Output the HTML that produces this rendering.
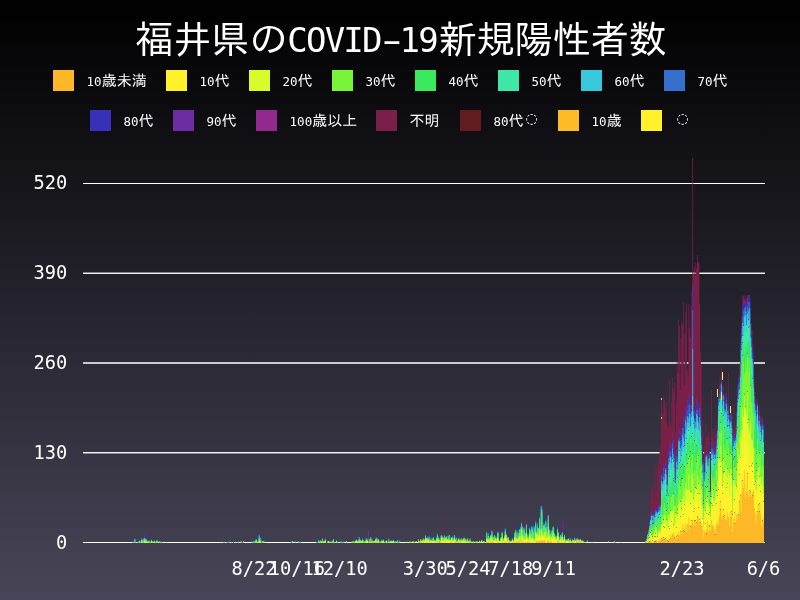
<!DOCTYPE html>
<html lang="ja"><head><meta charset="utf-8"><title>福井県のCOVID-19新規陽性者数</title>
<style>
html,body{margin:0;padding:0}
body{width:800px;height:600px;overflow:hidden;position:relative;background:linear-gradient(to bottom,#000 0%,#484558 100%);color:#fff;font-family:"DejaVu Sans Mono","Liberation Mono",monospace}
#title{position:absolute;left:1px;top:17px;width:800px;text-align:center;font-size:38px;line-height:48px;white-space:nowrap;font-family:"Liberation Mono","IPAGothic","Noto Sans CJK JP",monospace}
#title span{font-family:"DejaVu Sans Mono","Liberation Mono",monospace;font-size:34px;letter-spacing:-1.77px;margin-right:1.9px;position:relative;top:-1px}
#title i{font-style:normal;display:inline-block;transform:scaleX(1.7)}
.lg{position:absolute;font-size:15px;line-height:21px;white-space:nowrap;font-family:"Liberation Mono","IPAGothic","Noto Sans CJK JP",monospace}
.lg i{position:absolute;left:0;top:0;width:21px;height:21px;display:block}
.lg span{position:absolute;left:33.6px;top:1px}
.lg em{font-style:normal;position:relative;top:1px}
.lg b{font-weight:normal;font-family:"DejaVu Sans Mono","Liberation Mono",monospace;font-size:12.5px;letter-spacing:0}
.lg u{text-decoration:none;font-family:"DejaVu Sans","Liberation Sans",sans-serif;font-size:14px;display:inline-block;width:15px;text-align:center;position:relative;top:-3.5px;left:0.5px}
.yl{position:absolute;left:0;width:67.3px;text-align:right;font-size:18.67px;line-height:24px}
.xl{position:absolute;top:557px;width:100px;text-align:center;font-size:18.67px;line-height:24px;white-space:nowrap}
svg{position:absolute;left:0;top:0}
svg line{stroke:#fff;stroke-width:1}
</style></head><body>
<div id="title">福井県の<span>COVID<i>-</i>19</span>新規陽性者数</div>
<div class="lg" style="left:53px;top:70px"><i style="background:#fdb827"></i><span><b>10</b>歳未満</span></div>
<div class="lg" style="left:166px;top:70px"><i style="background:#fff22a"></i><span><b>10</b>代</span></div>
<div class="lg" style="left:249px;top:70px"><i style="background:#d8fb2a"></i><span><b>20</b>代</span></div>
<div class="lg" style="left:332px;top:70px"><i style="background:#78f53a"></i><span><b>30</b>代</span></div>
<div class="lg" style="left:415px;top:70px"><i style="background:#3ce95e"></i><span><b>40</b>代</span></div>
<div class="lg" style="left:498px;top:70px"><i style="background:#3ee8a8"></i><span><b>50</b>代</span></div>
<div class="lg" style="left:581px;top:70px"><i style="background:#38c8dc"></i><span><b>60</b>代</span></div>
<div class="lg" style="left:664px;top:70px"><i style="background:#3470cc"></i><span><b>70</b>代</span></div>
<div class="lg" style="left:90px;top:110px"><i style="background:#3830b8"></i><span><b>80</b>代</span></div>
<div class="lg" style="left:173px;top:110px"><i style="background:#6c2ca4"></i><span><b>90</b>代</span></div>
<div class="lg" style="left:256px;top:110px"><i style="background:#922a8e"></i><span><b>100</b>歳以上</span></div>
<div class="lg" style="left:376px;top:110px"><i style="background:#7a2048"></i><span><em>不明</em></span></div>
<div class="lg" style="left:460px;top:110px"><i style="background:#621c20"></i><span><b>80</b>代<u>◌</u></span></div>
<div class="lg" style="left:558px;top:110px"><i style="background:#fdbc26"></i><span><b>10</b>歳</span></div>
<div class="lg" style="left:641px;top:110px"><i style="background:#fff22a"></i><span><u>◌</u></span></div>

<svg width="800" height="600" viewBox="0 0 800 600">
<g><line x1="83" x2="765" y1="183.50" y2="183.50"/><line x1="83" x2="765" y1="273.25" y2="273.25"/><line x1="83" x2="765" y1="363.00" y2="363.00"/><line x1="83" x2="765" y1="452.75" y2="452.75"/><line x1="83" x2="765" y1="542.50" y2="542.50"/></g><g><line x1="83" x2="765" y1="183.50" y2="183.50"/><line x1="83" x2="765" y1="273.25" y2="273.25"/><line x1="83" x2="765" y1="363.00" y2="363.00"/><line x1="83" x2="765" y1="452.75" y2="452.75"/><line x1="83" x2="765" y1="542.50" y2="542.50"/></g>
<clipPath id="cp"><rect x="83" y="150" width="681" height="393"/></clipPath>
<g clip-path="url(#cp)">
<path fill="#7a2048" d="M443.13 543V520.67H443.91V543zM524.38 543V518.76H525.16V543zM645.46 543V538.36H646.25V535.6H647.03V528H647.81V527.31H648.59V519.72H649.37V513.5H650.15V504.53H650.93V486H651.71V490.03H652.5V487.96H653.28V500.39H654.06V472.08H654.84V492.1H655.62V463.11H656.4V490.72H657.18V467.94H657.96V465.18H658.75V456.89H659.53V451.37H660.31V445.16H661.09V397H661.87V412.71H662.65V412.71H663.43V398.21H664.21V400H665V408.57H665.78V402.35H666.56V423.06H667.34V424.44H668.12V427.21H668.9V381H669.68V420.99H670.46V424.44H671.24V402.35H672.03V377.5H672.81V388H673.59V392.69H674.37V383H675.15V432.04H675.93V400.97H676.71V360.93H677.49V374.05H678.28V320H679.06V325.72H679.84V390.62H680.62V338.15H681.4V321.58H682.18V325.03H682.96V302H683.74V385.09H684.53V334H685.31V311.91H686.09V304H686.87V369.21H687.65V375.43H688.43V304H689.21V328.48H689.99V337.46H690.78V306.39H691.56V291.2H692.34V158H693.12V273.84H693.9V266.47H694.68V275.16H695.46V263.08H696.24V268.49H697.02V255H697.81V262H698.59V263.16H699.37V304H700.15V352.64H700.93V365.07H701.71V432.73H702.49V420.3H703.27V472.08H704.06V441.01H704.84V450.68H705.62V424.44H706.4V437.56H707.18V436.18H707.96V432.04H708.74V437.56H709.52V472.08H710.31V458.27H711.09V390H711.87V438.25H712.65V429.28H713.43V427.9H714.21V441.01H714.99V425.13H715.77V433.42H716.56V432.73H717.34V412.71H718.12V395.45H718.9V384.4H719.68V376.81H720.46V543zM721.24 543V367.14H722.02V396.14H722.81V385.09H723.59V397.52H724.37V394.76H725.15V401.66H725.93V386.47H726.71V543zM728.27 543V373H729.05V414.09H729.84V414.09H730.62V409.26H731.4V412.02H732.18V474.15H732.96V429.97H733.74V404H734.52V425.13H735.3V427.21H736.09V423.06H736.87V385.78H737.65V386.47H738.43V374.74H739.21V363.69H739.99V362.31H740.77V333.31H741.55V314.67H742.34V295H743.12V296.03H743.9V298.79H744.68V295H745.46V300.17H746.24V297.41H747.02V295H747.8V543zM748.59 543V298.79H749.37V543zM750.15 543V313.29H750.93V322.96H751.71V329.86H752.49V343.67H753.27V360.24H754.05V380.26H754.83V392H755.62V446.54H756.4V400.28H757.18V398.9H757.96V412.02H758.74V404.42H759.52V418.92H760.3V415.47H761.08V418.23H761.87V415.47H762.65V419.61H763.43V436.18H764.21V543z"/>
<path fill="#922a8e" d="M368.13 543V530.81H368.92V543z"/>
<path fill="#6c2ca4" d="M140.02 543V541.12H140.8V543zM143.93 543V536.29H144.71V533.6H145.49V543zM146.27 543V537.67H147.05V543zM152.52 543V540.43H153.3V543zM223.61 543V541.12H224.39V543zM237.67 543V541.81H238.45V543zM260.33 543V536.98H261.11V543zM326.73 543V541.12H327.51V543zM329.07 543V540.43H329.85V543zM336.1 543V539.74H336.89V543zM354.85 543V540.43H355.63V539.05H356.42V543zM361.88 543V536.98H362.67V543zM369.7 543V541.12H370.48V543zM372.82 543V540.43H373.6V543zM375.95 543V536.98H376.73V543zM378.29 543V538.36H379.07V543zM386.1 543V539.05H386.88V543zM434.54 543V539.74H435.32V543zM440.79 543V533.52H441.57V543zM449.38 543V534.22H450.16V543zM451.72 543V536.29H452.5V543zM456.41 543V536.98H457.19V543zM475.16 543V541.12H475.94V543zM490 543V534.91H490.78V543zM497.82 543V530.76H498.6V543zM505.63 543V532.83H506.41V543zM516.56 543V530.07H517.35V543zM525.94 543V523.17H526.72V543zM527.5 543V532.14H528.28V543zM529.85 543V528.69H530.63V543zM538.44 543V527.31H539.22V514.88H540V543zM540.78 543V504.5H541.56V505.22H542.34V543zM548.59 543V528H549.38V527.31H550.16V543zM561.87 543V531.45H562.66V519.29H563.44V543zM572.81 543V539.05H573.59V543zM582.19 543V539.74H582.97V543zM646.25 543V537.67H647.03V543zM648.59 543V525.93H649.37V521.1H650.15V516.27H650.93V512.12H651.71V510.74H652.5V543zM653.28 543V511.43H654.06V514.88H654.84V508.67H655.62V506.6H656.4V543zM657.18 543V507.98H657.96V505.22H658.75V506.6H659.53V505.22H660.31V503.15H661.09V472.77H661.87V475.53H662.65V472.77H663.43V464.49H664.21V465.87H665V463.11H665.78V459.65H666.56V488.65H667.34V475.53H668.12V451.37H668.9V449.99H669.68V441.01H670.46V443.77H671.24V448.61H672.03V434.11H672.81V440.32H673.59V445.85H674.37V470.01H675.15V474.15H675.93V449.99H676.71V452.75H677.49V449.3H678.28V436.18H679.06V429.28H679.84V431.35H680.62V436.18H681.4V432.73H682.18V423.06H682.96V416.85H683.74V423.75H684.53V422.37H685.31V405.8H686.09V408.57H686.87V399.59H687.65V406.49H688.43V394.76H689.21V394.76H689.99V405.8H690.78V405.11H691.56V394.07H692.34V283.69H693.12V401.66H693.9V409.26H694.68V412.02H695.46V410.64H696.24V398.9H697.02V402.35H697.81V407.88H698.59V416.16H699.37V403.04H700.15V414.78H700.93V429.28H701.71V465.87H702.49V459.65H703.27V543zM704.06 543V467.94H704.84V464.49H705.62V453.44H706.4V543zM707.18 543V459.65H707.96V456.89H708.74V451.37H709.52V487.96H710.31V488.65H711.09V442.39H711.87V443.77H712.65V443.77H713.43V453.44H714.21V451.37H714.99V449.99H715.77V449.3H716.56V434.11H717.34V420.99H718.12V543zM718.9 543V394.07H719.68V384.4H720.46V384.4H721.24V374.74H722.02V396.83H722.81V387.16H723.59V402.35H724.37V396.83H725.15V403.04H725.93V393.38H726.71V413.4H727.49V403.04H728.27V410.64H729.05V416.16H729.84V416.16H730.62V409.95H731.4V421.68H732.18V477.6H732.96V438.25H733.74V433.42H734.52V433.42H735.3V543zM736.09 543V427.21H736.87V400.97H737.65V389.23H738.43V377.5H739.21V377.5H739.99V366.45H740.77V340.91H741.55V322.96H742.34V307.77H743.12V302.25H743.9V300.87H744.68V543zM745.46 543V301.56H746.24V305.7H747.02V298.79H747.8V295H748.59V301.56H749.37V295H750.15V316.05H750.93V331.24H751.71V345.74H752.49V348.5H753.27V375.43H754.05V392H754.83V399.59H755.62V449.3H756.4V405.11H757.18V543zM757.96 543V416.85H758.74V410.64H759.52V425.83H760.3V419.61H761.08V427.9H761.87V421.68H762.65V423.75H763.43V543z"/>
<path fill="#3830b8" d="M134.55 543V537.67H135.33V543zM137.68 543V541.81H138.46V543zM139.24 543V539.74H140.02V543zM144.71 543V535.6H145.49V543zM146.27 543V538.36H147.05V540.43H147.83V539.74H148.61V543zM156.42 543V539.74H157.21V543zM226.73 543V541.81H227.52V543zM228.3 543V541.12H229.08V543zM232.98 543V541.81H233.76V543zM242.36 543V541.81H243.14V543zM253.3 543V539.74H254.08V540.43H254.86V543zM258.76 543V532.83H259.55V533.74H260.33V537.67H261.11V541.81H261.89V543zM262.67 543V540.43H263.45V543zM316.57 543V541.81H317.35V543zM322.82 543V540.43H323.6V540.43H324.39V543zM325.95 543V541.81H326.73V541.81H327.51V539.74H328.29V543zM331.42 543V541.12H332.2V543zM340.01 543V541.12H340.79V543zM341.57 543V541.12H342.35V543zM358.76 543V536.29H359.54V543zM361.1 543V539.74H361.88V543zM364.23 543V540.43H365.01V543zM380.63 543V539.05H381.41V543zM384.54 543V541.12H385.32V543zM386.1 543V539.74H386.88V543zM387.66 543V541.81H388.45V543zM391.57 543V539.05H392.35V543zM393.13 543V539.05H393.91V543zM395.48 543V540.43H396.26V543zM397.04 543V539.05H397.82V543zM398.6 543V541.81H399.38V543zM418.91 543V540.43H419.69V543zM425.94 543V536.98H426.72V543zM429.07 543V534.91H429.85V543zM431.41 543V539.05H432.19V543zM435.32 543V539.05H436.1V543zM440.79 543V534.22H441.57V543zM450.16 543V539.05H450.94V543zM451.72 543V536.98H452.5V543zM456.41 543V537.67H457.19V543zM460.32 543V539.05H461.1V543zM467.35 543V537.67H468.13V543zM492.35 543V536.29H493.13V543zM500.94 543V536.29H501.72V543zM504.85 543V527.83H505.63V543zM507.19 543V536.98H507.97V536.29H508.75V543zM511.88 543V536.98H512.66V543zM515.78 543V538.36H516.56V543zM520.47 543V525.93H521.25V543zM524.38 543V530.76H525.16V543zM530.63 543V532.14H531.41V523.86H532.19V525.93H532.97V543zM533.75 543V525.24H534.53V543zM535.31 543V520.41H536.09V543zM539.22 543V515.58H540V543zM540.78 543V505.19H541.56V505.91H542.34V526.62H543.13V521.79H543.91V543zM545.47 543V519.03H546.25V543zM547.03 543V530.07H547.81V514.19H548.59V528.69H549.38V528H550.16V532.83H550.94V543zM552.5 543V525.93H553.28V543zM557.19 543V525.93H557.97V543zM561.09 543V535.6H561.87V543zM562.66 543V529.29H563.44V543zM564.22 543V533.52H565V543zM565.78 543V536.98H566.56V539.05H567.34V543zM568.12 543V537.67H568.91V543zM575.16 543V537.67H575.94V543zM576.72 543V536.98H577.5V543zM578.28 543V538.36H579.06V543zM581.41 543V539.05H582.19V543zM647.81 543V532.14H648.59V528.69H649.37V543zM650.15 543V517.65H650.93V513.5H651.71V512.81H652.5V522.48H653.28V513.5H654.06V515.58H654.84V510.74H655.62V507.29H656.4V508.67H657.18V509.36H657.96V508.67H658.75V543zM661.09 543V473.46H661.87V479.68H662.65V476.91H663.43V466.56H664.21V467.94H665V465.87H665.78V463.8H666.56V490.03H667.34V480.37H668.12V455.51H668.9V452.75H669.68V443.08H670.46V447.23H671.24V452.75H672.03V438.25H672.81V445.85H673.59V449.3H674.37V472.77H675.15V474.84H675.93V453.44H676.71V457.58H677.49V453.44H678.28V438.94H679.06V434.11H679.84V435.49H680.62V438.94H681.4V436.87H682.18V424.44H682.96V420.3H683.74V427.9H684.53V427.9H685.31V412.02H686.09V412.71H686.87V408.57H687.65V412.02H688.43V396.83H689.21V399.59H689.99V407.18H690.78V407.88H691.56V397.52H692.34V288.52H693.12V407.18H693.9V412.71H694.68V415.47H695.46V414.78H696.24V402.35H697.02V405.8H697.81V412.71H698.59V420.3H699.37V404.42H700.15V416.16H700.93V430.66H701.71V467.25H702.49V460.34H703.27V499.01H704.06V468.63H704.84V467.94H705.62V454.82H706.4V452.06H707.18V461.03H707.96V457.58H708.74V452.75H709.52V490.72H710.31V489.34H711.09V445.85H711.87V444.47H712.65V444.47H713.43V456.2H714.21V452.75H714.99V451.37H715.77V449.99H716.56V434.8H717.34V421.68H718.12V398.21H718.9V396.83H719.68V389.23H720.46V387.85H721.24V380.26H722.02V400.28H722.81V389.23H723.59V405.11H724.37V398.9H725.15V405.11H725.93V394.76H726.71V414.78H727.49V403.73H728.27V411.33H729.05V418.23H729.84V418.23H730.62V412.02H731.4V423.06H732.18V478.98H732.96V438.94H733.74V435.49H734.52V435.49H735.3V435.49H736.09V427.9H736.87V401.66H737.65V390.62H738.43V378.88H739.21V380.26H739.99V367.83H740.77V342.98H741.55V325.72H742.34V311.22H743.12V302.94H743.9V304.32H744.68V303.63H745.46V302.94H746.24V308.46H747.02V302.94H747.8V297.06H748.59V302.94H749.37V297.07H750.15V318.12H750.93V334H751.71V346.43H752.49V349.88H753.27V376.81H754.05V392.69H754.83V402.35H755.62V450.68H756.4V407.18H757.18V400.97H757.96V417.54H758.74V412.02H759.52V427.21H760.3V420.3H761.08V429.28H761.87V422.37H762.65V424.44H763.43V438.94H764.21V543z"/>
<path fill="#3470cc" d="M134.55 543V538.36H135.33V543zM138.46 543V541.12H139.24V543zM140.02 543V541.81H140.8V543zM143.93 543V536.98H144.71V543zM145.49 543V539.74H146.27V543zM155.64 543V540.43H156.42V543zM159.55 543V541.12H160.33V543zM231.42 543V541.81H232.2V543zM240.8 543V540.43H241.58V543zM258.76 543V534.22H259.55V537.43H260.33V543zM263.45 543V540.43H264.23V543zM290.79 543V541.81H291.57V543zM294.7 543V541.12H295.48V543zM298.61 543V541.81H299.39V543zM317.35 543V541.81H318.14V539.74H318.92V543zM325.17 543V538.36H325.95V543zM327.51 543V540.43H328.29V543zM329.07 543V541.12H329.85V543zM330.64 543V541.12H331.42V543zM334.54 543V541.81H335.32V543zM361.1 543V540.43H361.88V538.36H362.67V539.05H363.45V543zM368.92 543V538.36H369.7V543zM374.38 543V540.43H375.16V537.67H375.95V543zM379.07 543V541.12H379.85V543zM380.63 543V540.43H381.41V543zM382.98 543V539.05H383.76V543zM385.32 543V540.43H386.1V543zM388.45 543V538.36H389.23V543zM390.01 543V540.43H390.79V543zM391.57 543V539.74H392.35V543zM397.04 543V539.74H397.82V543zM425.16 543V534.91H425.94V543zM427.51 543V536.29H428.29V539.05H429.07V535.6H429.85V539.74H430.63V537.67H431.41V539.74H432.19V543zM438.44 543V537.67H439.22V538.36H440.01V543zM440.79 543V534.91H441.57V543zM443.91 543V534.91H444.69V543zM445.47 543V536.29H446.26V543zM451.72 543V537.67H452.5V535.6H453.29V543zM455.63 543V536.98H456.41V543zM461.88 543V539.05H462.66V543zM464.22 543V536.98H465V538.36H465.79V543zM472.82 543V540.43H473.6V543zM487.66 543V532.83H488.44V535.6H489.22V543zM490.78 543V534.22H491.57V543zM492.35 543V536.98H493.13V543zM497.03 543V532.14H497.82V531.45H498.6V543zM500.94 543V536.98H501.72V531.45H502.5V543zM504.07 543V535.6H504.85V543zM512.66 543V539.05H513.44V543zM515 543V529.38H515.78V543zM516.56 543V530.76H517.35V543zM518.13 543V532.83H518.91V528.69H519.69V543zM520.47 543V526.62H521.25V522.48H522.03V525.93H522.81V543zM523.6 543V526.62H524.38V531.45H525.16V543zM525.94 543V523.86H526.72V536.29H527.5V532.83H528.28V543zM529.06 543V527.31H529.85V529.38H530.63V532.83H531.41V525.93H532.19V526.62H532.97V531.45H533.75V525.93H534.53V543zM535.31 543V521.1H536.09V531.45H536.88V522.48H537.66V543zM539.22 543V516.96H540V528.69H540.78V543zM541.56 543V507.29H542.34V527.31H543.13V522.48H543.91V523.17H544.69V543zM545.47 543V519.72H546.25V543zM547.03 543V530.76H547.81V543zM548.59 543V530.07H549.38V528.69H550.16V543zM550.94 543V531.45H551.72V529.38H552.5V526.62H553.28V543zM554.84 543V534.22H555.63V535.6H556.41V535.6H557.19V527.31H557.97V531.45H558.75V543zM559.53 543V536.29H560.31V534.22H561.09V543zM565 543V539.05H565.78V537.67H566.56V543zM575.16 543V539.05H575.94V543zM576.72 543V537.67H577.5V543zM581.41 543V539.74H582.19V543zM582.97 543V540.43H583.75V543zM645.46 543V539.74H646.25V538.36H647.03V543zM649.37 543V522.48H650.15V543zM650.93 543V514.19H651.71V514.19H652.5V523.17H653.28V514.19H654.06V516.96H654.84V513.5H655.62V510.05H656.4V512.12H657.18V512.12H657.96V510.05H658.75V507.29H659.53V506.6H660.31V504.53H661.09V474.84H661.87V482.44H662.65V481.06H663.43V467.94H664.21V473.46H665V467.94H665.78V467.94H666.56V492.1H667.34V481.75H668.12V458.27H668.9V457.58H669.68V450.68H670.46V452.06H671.24V456.2H672.03V442.39H672.81V453.44H673.59V452.75H674.37V478.29H675.15V479.68H675.93V456.2H676.71V460.34H677.49V456.2H678.28V439.63H679.06V438.25H679.84V440.32H680.62V447.92H681.4V439.63H682.18V427.9H682.96V427.9H683.74V432.73H684.53V434.11H685.31V416.16H686.09V421.68H686.87V410.64H687.65V416.85H688.43V405.11H689.21V403.73H689.99V414.09H690.78V410.64H691.56V405.8H692.34V309.97H693.12V410.64H693.9V418.23H694.68V418.23H695.46V421.68H696.24V409.95H697.02V409.95H697.81V418.23H698.59V422.37H699.37V407.88H700.15V419.61H700.93V437.56H701.71V467.94H702.49V461.73H703.27V500.39H704.06V472.08H704.84V472.08H705.62V455.51H706.4V453.44H707.18V462.42H707.96V461.73H708.74V454.82H709.52V491.41H710.31V491.41H711.09V448.61H711.87V449.99H712.65V448.61H713.43V457.58H714.21V453.44H714.99V453.44H715.77V452.06H716.56V441.01H717.34V428.59H718.12V398.9H718.9V398.9H719.68V394.07H720.46V390.62H721.24V382.33H722.02V404.42H722.81V394.07H723.59V412.02H724.37V403.04H725.15V409.26H725.93V398.21H726.71V421.68H727.49V407.18H728.27V414.78H729.05V420.3H729.84V420.3H730.62V414.78H731.4V425.82H732.18V479.68H732.96V443.08H733.74V436.87H734.52V440.32H735.3V437.56H736.09V430.66H736.87V406.49H737.65V394.07H738.43V383.71H739.21V381.64H739.99V371.28H740.77V344.36H741.55V328.48H742.34V316.74H743.12V311.22H743.9V308.46H744.68V307.08H745.46V307.08H746.24V314.67H747.02V307.08H747.8V301.88H748.59V309.15H749.37V301.89H750.15V324.34H750.93V337.46H751.71V352.64H752.49V358.17H753.27V383.71H754.05V395.45H754.83V405.11H755.62V453.44H756.4V409.95H757.18V403.73H757.96V419.61H758.74V415.47H759.52V429.97H760.3V424.44H761.08V433.42H761.87V424.44H762.65V425.82H763.43V441.01H764.21V543z"/>
<path fill="#38c8dc" d="M134.55 543V539.05H135.33V543zM140.8 543V539.74H141.58V538.36H142.36V543zM143.14 543V539.05H143.93V538.36H144.71V538.36H145.49V543zM146.27 543V539.05H147.05V543zM148.61 543V541.12H149.39V543zM151.74 543V541.12H152.52V543zM154.08 543V540.43H154.86V543zM157.21 543V540.43H157.99V543zM158.77 543V541.12H159.55V543zM235.33 543V541.81H236.11V543zM253.3 543V541.12H254.08V543zM255.64 543V539.05H256.42V539.74H257.2V543zM257.98 543V541.12H258.76V543zM259.55 543V540.43H260.33V538.36H261.11V543zM300.17 543V541.81H300.95V543zM322.04 543V538.36H322.82V543zM323.6 543V541.12H324.39V543zM325.17 543V539.05H325.95V543zM329.07 543V541.81H329.85V543zM340.01 543V541.81H340.79V541.12H341.57V543zM357.98 543V539.74H358.76V543zM362.67 543V539.74H363.45V543zM365.01 543V540.43H365.79V543zM366.57 543V539.05H367.35V539.74H368.13V543zM371.26 543V540.43H372.04V539.74H372.82V543zM374.38 543V541.12H375.16V539.05H375.95V537.67H376.73V538.36H377.51V540.43H378.29V543zM382.2 543V540.43H382.98V543zM388.45 543V539.05H389.23V543zM390.79 543V540.43H391.57V543zM392.35 543V541.12H393.13V539.74H393.91V543zM418.13 543V539.05H418.91V543zM419.69 543V541.12H420.48V543zM422.04 543V539.74H422.82V538.36H423.6V543zM424.38 543V539.05H425.16V535.6H425.94V543zM427.51 543V536.98H428.29V543zM429.07 543V536.98H429.85V543zM430.63 543V538.36H431.41V543zM432.19 543V538.36H432.97V536.98H433.76V543zM435.32 543V539.74H436.1V537.67H436.88V533.52H437.66V536.29H438.44V538.36H439.22V539.74H440.01V543zM441.57 543V535.6H442.35V537.67H443.13V537.67H443.91V535.6H444.69V537.67H445.47V536.98H446.26V536.29H447.04V543zM447.82 543V535.6H448.6V543zM452.5 543V536.98H453.29V539.74H454.07V543zM455.63 543V537.67H456.41V543zM458.75 543V539.74H459.54V543zM461.1 543V538.36H461.88V543zM462.66 543V539.05H463.44V537.67H464.22V538.36H465V543zM467.35 543V538.36H468.13V543zM468.91 543V540.43H469.69V543zM482.97 543V541.12H483.75V540.43H484.53V543zM486.1 543V532.14H486.88V537.67H487.66V533.52H488.44V543zM489.22 543V537.67H490V543zM490.78 543V534.91H491.57V530.76H492.35V537.67H493.13V536.98H493.91V543zM496.25 543V538.36H497.03V532.83H497.82V543zM501.72 543V532.14H502.5V539.05H503.28V538.36H504.07V543zM504.85 543V528.52H505.63V543zM506.41 543V534.91H507.19V537.67H507.97V536.98H508.75V543zM511.1 543V541.12H511.88V538.36H512.66V543zM513.44 543V540.43H514.22V543zM515 543V530.07H515.78V539.05H516.56V531.45H517.35V539.05H518.13V533.52H518.91V529.38H519.69V543zM520.47 543V527.31H521.25V523.17H522.03V527.31H522.81V534.91H523.6V543zM525.16 543V533.52H525.94V524.55H526.72V543zM528.28 543V536.29H529.06V528H529.85V530.07H530.63V533.52H531.41V526.62H532.19V528.69H532.97V532.14H533.75V526.62H534.53V538.36H535.31V522.48H536.09V543zM536.88 543V523.86H537.66V528H538.44V528H539.22V518.34H540V529.38H540.78V505.88H541.56V509.36H542.34V528H543.13V525.24H543.91V524.55H544.69V527.31H545.47V521.1H546.25V527.31H547.03V532.14H547.81V514.88H548.59V531.45H549.38V529.38H550.16V543zM550.94 543V532.83H551.72V530.07H552.5V543zM553.28 543V526.62H554.06V543zM554.84 543V535.6H555.63V543zM556.41 543V536.29H557.19V528.69H557.97V543zM558.75 543V539.05H559.53V543zM564.22 543V534.91H565V539.74H565.78V543zM570.47 543V539.74H571.25V543zM572.03 543V539.05H572.81V543zM581.41 543V540.43H582.19V543zM583.75 543V541.81H584.53V543zM585.31 543V541.81H586.09V543zM614.22 543V541.12H615V541.81H615.78V543zM646.25 543V539.05H647.03V534.22H647.81V534.22H648.59V529.38H649.37V525.93H650.15V519.72H650.93V515.58H651.71V515.58H652.5V524.55H653.28V515.58H654.06V518.34H654.84V514.88H655.62V511.43H656.4V513.5H657.18V513.5H657.96V512.12H658.75V510.74H659.53V511.43H660.31V506.6H661.09V481.06H661.87V484.51H662.65V483.13H663.43V476.91H664.21V479.68H665V470.01H665.78V474.15H666.56V495.55H667.34V485.2H668.12V464.49H668.9V461.73H669.68V455.51H670.46V457.58H671.24V463.11H672.03V448.61H672.81V461.73H673.59V458.27H674.37V481.75H675.15V482.44H675.93V461.03H676.71V469.32H677.49V464.49H678.28V441.01H679.06V441.7H679.84V447.92H680.62V455.51H681.4V445.85H682.18V434.8H682.96V438.25H683.74V441.7H684.53V445.85H685.31V420.3H686.09V429.28H686.87V416.16H687.65V423.06H688.43V418.23H689.21V412.71H689.99V426.52H690.78V416.85H691.56V412.71H692.34V348.95H693.12V416.16H693.9V428.59H694.68V421.68H695.46V427.9H696.24V414.09H697.02V415.47H697.81V421.68H698.59V430.66H699.37V416.85H700.15V425.82H700.93V445.16H701.71V472.08H702.49V464.49H703.27V503.15H704.06V481.06H704.84V474.84H705.62V457.58H706.4V456.2H707.18V465.87H707.96V466.56H708.74V457.58H709.52V494.86H710.31V492.1H711.09V454.13H711.87V454.82H712.65V453.44H713.43V460.34H714.21V454.82H714.99V458.96H715.77V454.82H716.56V445.16H717.34V430.66H718.12V405.8H718.9V401.66H719.68V398.21H720.46V399.59H721.24V384.4H722.02V411.33H722.81V395.45H723.59V415.47H724.37V409.26H725.15V412.02H725.93V404.42H726.71V426.52H727.49V410.64H728.27V418.23H729.05V427.9H729.84V423.06H730.62V421.68H731.4V428.59H732.18V480.37H732.96V445.85H733.74V440.32H734.52V443.77H735.3V440.32H736.09V434.8H736.87V412.71H737.65V398.21H738.43V390.62H739.21V388.54H739.99V376.81H740.77V349.88H741.55V337.46H742.34V322.96H743.12V325.72H743.9V316.74H744.68V314.67H745.46V311.22H746.24V325.03H747.02V313.98H747.8V311.5H748.59V319.51H749.37V308.1H750.15V337.46H750.93V347.12H751.71V358.17H752.49V362.31H753.27V387.85H754.05V403.73H754.83V409.95H755.62V456.2H756.4V415.47H757.18V405.8H757.96V426.52H758.74V420.99H759.52V432.73H760.3V426.52H761.08V439.63H761.87V428.59H762.65V429.97H763.43V442.39H764.21V543z"/>
<path fill="#3ee8a8" d="M132.21 543V541.81H132.99V541.81H133.77V543zM138.46 543V541.81H139.24V543zM140.8 543V541.12H141.58V543zM143.14 543V540.43H143.93V539.05H144.71V539.05H145.49V540.43H146.27V543zM147.05 543V541.12H147.83V543zM148.61 543V541.81H149.39V540.43H150.18V543zM150.96 543V539.74H151.74V543zM152.52 543V541.12H153.3V543zM158.77 543V541.81H159.55V543zM160.33 543V541.81H161.11V541.81H161.89V543zM165.8 543V541.81H166.58V543zM240.8 543V541.12H241.58V543zM251.73 543V541.81H252.51V543zM254.86 543V541.12H255.64V539.74H256.42V543zM257.2 543V541.81H257.98V541.81H258.76V535.6H259.55V543zM261.89 543V541.12H262.67V541.12H263.45V543zM292.36 543V541.12H293.14V543zM297.82 543V541.12H298.61V543zM318.14 543V540.43H318.92V543zM319.7 543V540.43H320.48V540.43H321.26V541.12H322.04V539.05H322.82V543zM324.39 543V540.43H325.17V543zM332.2 543V540.43H332.98V539.05H333.76V543zM336.89 543V541.81H337.67V543zM340.79 543V541.81H341.57V543zM353.29 543V541.12H354.07V543zM354.85 543V541.12H355.63V539.74H356.42V539.74H357.2V541.12H357.98V541.12H358.76V536.98H359.54V539.74H360.32V539.74H361.1V543zM361.88 543V539.74H362.67V540.43H363.45V541.12H364.23V543zM366.57 543V539.74H367.35V540.43H368.13V543zM368.92 543V539.05H369.7V543zM370.48 543V536.98H371.26V543zM372.04 543V540.43H372.82V541.12H373.6V543zM375.95 543V539.05H376.73V539.74H377.51V541.12H378.29V539.05H379.07V543zM380.63 543V541.12H381.41V539.74H382.2V543zM382.98 543V539.74H383.76V541.81H384.54V543zM395.48 543V541.12H396.26V543zM397.04 543V540.43H397.82V541.81H398.6V543zM399.38 543V540.43H400.16V543zM414.23 543V541.81H415.01V543zM420.48 543V539.05H421.26V543zM422.82 543V539.05H423.6V539.74H424.38V539.74H425.16V536.29H425.94V543zM426.72 543V540.43H427.51V543zM429.07 543V539.05H429.85V543zM432.19 543V539.05H432.97V537.67H433.76V543zM436.1 543V538.36H436.88V535.6H437.66V537.67H438.44V539.05H439.22V540.43H440.01V543zM442.35 543V538.36H443.13V538.36H443.91V543zM444.69 543V538.36H445.47V543zM446.26 543V536.98H447.04V539.05H447.82V536.29H448.6V543zM449.38 543V534.91H450.16V543zM450.94 543V536.98H451.72V538.36H452.5V537.67H453.29V543zM454.07 543V534.91H454.85V539.05H455.63V543zM456.41 543V538.36H457.19V540.43H457.97V543zM459.54 543V538.36H460.32V539.74H461.1V543zM464.22 543V539.05H465V543zM467.35 543V539.05H468.13V543zM470.47 543V541.12H471.25V543zM472.82 543V541.12H473.6V543zM475.94 543V541.12H476.72V543zM480.63 543V541.12H481.41V539.74H482.19V543zM486.1 543V533.52H486.88V543zM487.66 543V536.29H488.44V536.29H489.22V538.36H490V543zM490.78 543V535.6H491.57V531.45H492.35V543zM493.91 543V534.91H494.69V538.36H495.47V536.29H496.25V539.05H497.03V534.22H497.82V532.83H498.6V543zM500.16 543V537.67H500.94V537.67H501.72V532.83H502.5V539.74H503.28V543zM504.07 543V536.29H504.85V530.6H505.63V543zM506.41 543V536.29H507.19V543zM507.97 543V537.67H508.75V543zM509.53 543V539.74H510.31V543zM514.22 543V532.83H515V531.45H515.78V539.74H516.56V532.83H517.35V543zM518.13 543V535.6H518.91V530.07H519.69V543zM520.47 543V528.69H521.25V543zM522.03 543V530.07H522.81V535.6H523.6V528H524.38V532.83H525.16V534.22H525.94V525.93H526.72V543zM527.5 543V534.22H528.28V537.67H529.06V528.69H529.85V532.83H530.63V534.91H531.41V528.69H532.19V530.07H532.97V532.83H533.75V528H534.53V543zM535.31 543V524.55H536.09V532.14H536.88V525.93H537.66V529.38H538.44V528.69H539.22V519.72H540V532.83H540.78V508.64H541.56V511.43H542.34V529.38H543.13V525.93H543.91V525.24H544.69V530.76H545.47V543zM546.25 543V530.07H547.03V543zM547.81 543V516.27H548.59V532.14H549.38V530.76H550.16V534.22H550.94V533.52H551.72V530.76H552.5V543zM553.28 543V528H554.06V533.52H554.84V536.29H555.63V543zM556.41 543V536.98H557.19V529.38H557.97V532.14H558.75V539.74H559.53V536.98H560.31V534.91H561.09V543zM561.87 543V532.14H562.66V536.98H563.44V543zM564.22 543V535.6H565V540.43H565.78V543zM566.56 543V539.74H567.34V543zM571.25 543V541.12H572.03V543zM573.59 543V540.43H574.37V537.67H575.16V543zM575.94 543V539.05H576.72V543zM579.06 543V539.74H579.84V543zM581.41 543V541.12H582.19V540.43H582.97V543zM591.56 543V541.81H592.34V543zM645.46 543V540.43H646.25V543zM647.03 543V536.98H647.81V535.6H648.59V531.45H649.37V543zM650.15 543V521.79H650.93V521.1H651.71V519.72H652.5V525.93H653.28V523.86H654.06V543zM654.84 543V516.27H655.62V513.5H656.4V516.96H657.18V521.79H657.96V517.65H658.75V516.27H659.53V514.19H660.31V512.81H661.09V490.03H661.87V490.72H662.65V492.1H663.43V481.06H664.21V485.89H665V478.29H665.78V483.82H666.56V498.32H667.34V494.86H668.12V469.32H668.9V476.22H669.68V464.49H670.46V469.32H671.24V469.32H672.03V458.27H672.81V471.39H673.59V467.94H674.37V486.58H675.15V490.03H675.93V472.08H676.71V477.6H677.49V468.63H678.28V450.68H679.06V450.68H679.84V460.34H680.62V466.56H681.4V451.37H682.18V452.06H682.96V446.54H683.74V452.06H684.53V451.37H685.31V433.42H686.09V438.25H686.87V426.52H687.65V430.66H688.43V427.9H689.21V427.21H689.99V438.94H690.78V430.66H691.56V423.75H692.34V395.99H693.12V423.75H693.9V440.32H694.68V432.04H695.46V438.25H696.24V429.97H697.02V420.99H697.81V429.28H698.59V444.47H699.37V430.66H700.15V435.49H700.93V450.68H701.71V475.53H702.49V471.39H703.27V507.29H704.06V482.44H704.84V478.98H705.62V463.11H706.4V460.34H707.18V471.39H707.96V476.22H708.74V458.96H709.52V496.24H710.31V496.93H711.09V459.65H711.87V460.34H712.65V458.27H713.43V465.87H714.21V458.96H714.99V465.18H715.77V458.96H716.56V449.3H717.34V438.94H718.12V416.16H718.9V410.64H719.68V408.57H720.46V403.73H721.24V393.38H722.02V423.75H722.81V400.28H723.59V420.99H724.37V414.78H725.15V419.61H725.93V414.09H726.71V430.66H727.49V420.3H728.27V425.13H729.05V437.56H729.84V434.11H730.62V433.42H731.4V435.49H732.18V486.58H732.96V452.06H733.74V448.61H734.52V448.61H735.3V445.16H736.09V441.7H736.87V420.3H737.65V403.04H738.43V400.28H739.21V393.38H739.99V388.54H740.77V363H741.55V349.88H742.34V335.38H743.12V336.07H743.9V331.93H744.68V325.72H745.46V325.72H746.24V331.24H747.02V322.96H747.8V321.81H748.59V327.79H749.37V326.02H750.15V347.81H750.93V358.17H751.71V368.52H752.49V378.88H753.27V392H754.05V414.78H754.83V413.4H755.62V458.96H756.4V423.75H757.18V413.4H757.96V432.73H758.74V423.75H759.52V441.7H760.3V431.35H761.08V443.77H761.87V435.49H762.65V441.7H763.43V450.68H764.21V543z"/>
<path fill="#3ce95e" d="M134.55 543V539.74H135.33V543zM143.93 543V539.74H144.71V543zM145.49 543V541.12H146.27V539.74H147.05V543zM147.83 543V540.43H148.61V543zM149.39 543V541.12H150.18V541.81H150.96V543zM151.74 543V541.81H152.52V543zM154.08 543V541.12H154.86V541.81H155.64V543zM156.42 543V540.43H157.21V541.12H157.99V543zM228.3 543V541.81H229.08V541.81H229.86V543zM236.89 543V541.81H237.67V543zM253.3 543V541.81H254.08V541.12H254.86V543zM258.76 543V537.67H259.55V543zM260.33 543V539.74H261.11V543zM291.57 543V541.12H292.36V543zM318.14 543V541.12H318.92V543zM319.7 543V541.12H320.48V543zM322.04 543V540.43H322.82V543zM324.39 543V541.12H325.17V543zM332.2 543V541.12H332.98V539.74H333.76V543zM336.1 543V540.43H336.89V543zM337.67 543V541.81H338.45V543zM341.57 543V541.81H342.35V543zM343.13 543V541.81H343.92V543zM351.73 543V541.12H352.51V543zM358.76 543V539.05H359.54V540.43H360.32V540.43H361.1V543zM361.88 543V540.43H362.67V541.12H363.45V543zM364.23 543V541.12H365.01V543zM368.13 543V541.81H368.92V541.12H369.7V543zM370.48 543V538.36H371.26V543zM372.04 543V541.12H372.82V543zM375.95 543V539.74H376.73V543zM377.51 543V541.81H378.29V543zM381.41 543V540.43H382.2V543zM385.32 543V541.12H386.1V543zM388.45 543V540.43H389.23V543zM394.7 543V541.12H395.48V543zM397.04 543V541.12H397.82V543zM405.63 543V541.81H406.41V543zM409.54 543V541.12H410.32V543zM413.44 543V541.81H414.23V543zM418.91 543V541.12H419.69V543zM421.26 543V541.12H422.04V543zM424.38 543V540.43H425.16V536.98H425.94V543zM427.51 543V537.67H428.29V543zM429.07 543V540.43H429.85V543zM431.41 543V540.43H432.19V540.43H432.97V539.05H433.76V539.05H434.54V540.43H435.32V540.43H436.1V539.05H436.88V536.98H437.66V539.05H438.44V543zM439.22 543V541.12H440.01V540.43H440.79V535.6H441.57V536.29H442.35V539.05H443.13V543zM443.91 543V536.29H444.69V539.74H445.47V543zM446.26 543V538.36H447.04V543zM447.82 543V538.36H448.6V543zM449.38 543V537.67H450.16V539.74H450.94V543zM451.72 543V539.05H452.5V538.36H453.29V543zM454.07 543V535.6H454.85V543zM456.41 543V541.12H457.19V541.12H457.97V538.36H458.75V543zM459.54 543V539.74H460.32V543zM461.1 543V539.05H461.88V539.74H462.66V539.74H463.44V543zM464.22 543V540.43H465V539.05H465.79V543zM467.35 543V539.74H468.13V543zM470.47 543V541.81H471.25V543zM472.82 543V541.81H473.6V543zM476.72 543V541.12H477.5V543zM479.07 543V540.43H479.85V543zM483.75 543V541.12H484.53V543zM486.1 543V536.29H486.88V543zM487.66 543V537.67H488.44V537.67H489.22V539.74H490V535.6H490.78V536.29H491.57V533.52H492.35V543zM493.13 543V537.67H493.91V535.6H494.69V539.05H495.47V536.98H496.25V540.43H497.03V535.6H497.82V533.52H498.6V540.43H499.38V540.43H500.16V538.36H500.94V543zM501.72 543V533.52H502.5V540.43H503.28V539.05H504.07V536.98H504.85V531.29H505.63V533.52H506.41V536.98H507.19V539.74H507.97V543zM508.75 543V541.12H509.53V540.43H510.31V543zM511.88 543V539.05H512.66V543zM513.44 543V541.12H514.22V533.52H515V532.14H515.78V543zM516.56 543V534.22H517.35V543zM518.91 543V532.14H519.69V540.43H520.47V529.38H521.25V523.86H522.03V532.14H522.81V536.29H523.6V528.69H524.38V534.91H525.16V534.91H525.94V528H526.72V536.98H527.5V535.6H528.28V538.36H529.06V529.38H529.85V534.91H530.63V536.29H531.41V530.07H532.19V532.83H532.97V534.91H533.75V533.52H534.53V539.05H535.31V526.62H536.09V532.83H536.88V528.69H537.66V532.83H538.44V531.45H539.22V521.79H540V534.22H540.78V512.09H541.56V514.88H542.34V531.45H543.13V530.76H543.91V528H544.69V532.14H545.47V522.48H546.25V532.14H547.03V532.83H547.81V519.72H548.59V534.91H549.38V531.45H550.16V536.98H550.94V534.91H551.72V531.45H552.5V527.31H553.28V530.76H554.06V534.91H554.84V536.98H555.63V536.98H556.41V537.67H557.19V531.45H557.97V532.83H558.75V543zM559.53 543V538.36H560.31V535.6H561.09V536.29H561.87V533.52H562.66V539.74H563.44V539.05H564.22V536.29H565V543zM566.56 543V540.43H567.34V539.05H568.12V538.36H568.91V540.43H569.69V538.36H570.47V540.43H571.25V543zM572.03 543V540.43H572.81V543zM573.59 543V541.12H574.37V539.05H575.16V543zM575.94 543V540.43H576.72V538.36H577.5V540.43H578.28V539.05H579.06V543zM581.41 543V541.81H582.19V543zM582.97 543V541.12H583.75V543zM645.46 543V541.12H646.25V543zM647.03 543V538.36H647.81V536.98H648.59V532.83H649.37V528H650.15V524.55H650.93V523.86H651.71V524.55H652.5V532.14H653.28V526.62H654.06V522.48H654.84V519.03H655.62V516.27H656.4V519.03H657.18V528H657.96V522.48H658.75V522.48H659.53V518.34H660.31V517.65H661.09V499.01H661.87V497.62H662.65V503.15H663.43V490.03H664.21V494.17H665V495.55H665.78V498.32H666.56V507.29H667.34V503.84H668.12V481.06H668.9V490.03H669.68V482.44H670.46V487.27H671.24V482.44H672.03V472.77H672.81V480.37H673.59V478.29H674.37V494.17H675.15V496.93H675.93V484.51H676.71V487.96H677.49V480.37H678.28V465.18H679.06V462.42H679.84V467.25H680.62V478.29H681.4V465.87H682.18V464.49H682.96V462.42H683.74V466.56H684.53V467.25H685.31V451.37H686.09V454.13H686.87V443.08H687.65V442.39H688.43V438.25H689.21V436.18H689.99V451.37H690.78V445.16H691.56V436.18H692.34V433.42H693.12V441.01H693.9V456.2H694.68V441.01H695.46V447.23H696.24V445.85H697.02V432.04H697.81V444.47H698.59V455.51H699.37V438.94H700.15V452.06H700.93V456.89H701.71V485.89H702.49V478.29H703.27V513.5H704.06V487.27H704.84V486.58H705.62V472.08H706.4V471.39H707.18V478.29H707.96V479.68H708.74V467.25H709.52V499.01H710.31V502.46H711.09V466.56H711.87V471.39H712.65V468.63H713.43V468.63H714.21V464.49H714.99V474.84H715.77V462.42H716.56V456.89H717.34V448.61H718.12V429.97H718.9V415.47H719.68V419.61H720.46V413.4H721.24V413.4H722.02V438.94H722.81V405.8H723.59V432.04H724.37V427.21H725.15V433.42H725.93V427.21H726.71V445.16H727.49V425.13H728.27V436.87H729.05V443.77H729.84V442.39H730.62V442.39H731.4V444.47H732.18V493.48H732.96V455.51H733.74V456.89H734.52V457.58H735.3V449.3H736.09V449.99H736.87V427.21H737.65V416.16H738.43V416.85H739.21V405.11H739.99V398.21H740.77V381.64H741.55V363.69H742.34V342.29H743.12V347.12H743.9V356.1H744.68V352.64H745.46V345.05H746.24V346.43H747.02V342.29H747.8V340.38H748.59V342.98H749.37V341.19H750.15V365.07H750.93V374.05H751.71V380.95H752.49V392H753.27V405.11H754.05V431.35H754.83V427.9H755.62V463.11H756.4V441.01H757.18V429.97H757.96V443.08H758.74V433.42H759.52V445.85H760.3V440.32H761.08V456.2H761.87V443.77H762.65V454.82H763.43V460.34H764.21V543z"/>
<path fill="#78f53a" d="M139.24 543V540.43H140.02V543zM140.8 543V541.81H141.58V539.74H142.36V543zM144.71 543V539.74H145.49V543zM146.27 543V541.12H147.05V543zM156.42 543V541.12H157.21V543zM223.61 543V541.81H224.39V543zM243.14 543V541.12H243.92V543zM255.64 543V541.12H256.42V541.12H257.2V543zM258.76 543V538.36H259.55V543zM260.33 543V540.43H261.11V543zM261.89 543V541.81H262.67V543zM263.45 543V541.12H264.23V543zM265.79 543V541.81H266.58V543zM318.14 543V541.81H318.92V543zM319.7 543V541.81H320.48V543zM325.17 543V539.74H325.95V543zM327.51 543V541.12H328.29V543zM330.64 543V541.81H331.42V543zM332.98 543V541.12H333.76V543zM343.92 543V541.81H344.7V543zM346.26 543V541.12H347.04V543zM351.73 543V541.81H352.51V541.81H353.29V541.81H354.07V541.81H354.85V543zM355.63 543V541.81H356.42V540.43H357.2V543zM357.98 543V541.81H358.76V540.43H359.54V541.12H360.32V541.12H361.1V543zM362.67 543V541.81H363.45V541.81H364.23V541.81H365.01V541.12H365.79V538.36H366.57V543zM370.48 543V539.05H371.26V543zM372.04 543V541.81H372.82V543zM373.6 543V540.43H374.38V543zM375.16 543V539.74H375.95V540.43H376.73V540.43H377.51V543zM378.29 543V539.74H379.07V541.81H379.85V543zM382.2 543V541.12H382.98V540.43H383.76V543zM384.54 543V541.81H385.32V543zM388.45 543V541.12H389.23V543zM390.01 543V541.12H390.79V543zM393.91 543V541.81H394.7V541.81H395.48V543zM397.04 543V541.81H397.82V543zM399.38 543V541.81H400.16V543zM418.13 543V540.43H418.91V541.81H419.69V543zM420.48 543V539.74H421.26V541.81H422.04V540.43H422.82V539.74H423.6V540.43H424.38V543zM425.16 543V537.67H425.94V537.67H426.72V543zM427.51 543V538.36H428.29V539.74H429.07V541.12H429.85V540.43H430.63V539.74H431.41V541.12H432.19V543zM434.54 543V541.12H435.32V543zM436.1 543V539.74H436.88V538.36H437.66V539.74H438.44V543zM440.01 543V541.12H440.79V536.29H441.57V536.98H442.35V540.43H443.13V539.05H443.91V537.67H444.69V540.43H445.47V537.67H446.26V539.05H447.04V543zM447.82 543V539.05H448.6V543zM449.38 543V539.05H450.16V543zM450.94 543V537.67H451.72V539.74H452.5V539.05H453.29V540.43H454.07V537.67H454.85V539.74H455.63V543zM456.41 543V541.81H457.19V543zM459.54 543V540.43H460.32V541.12H461.1V539.74H461.88V540.43H462.66V540.43H463.44V538.36H464.22V543zM465 543V539.74H465.79V543zM466.57 543V539.05H467.35V541.12H468.13V543zM468.91 543V541.12H469.69V538.36H470.47V543zM471.25 543V541.81H472.04V543zM473.6 543V541.81H474.38V543zM475.16 543V541.81H475.94V541.81H476.72V543zM479.07 543V541.12H479.85V543zM480.63 543V541.81H481.41V543zM486.1 543V537.67H486.88V539.05H487.66V539.74H488.44V543zM489.22 543V540.43H490V536.29H490.78V539.05H491.57V534.91H492.35V539.74H493.13V543zM493.91 543V536.98H494.69V543zM495.47 543V538.36H496.25V541.12H497.03V537.67H497.82V537.67H498.6V543zM499.38 543V541.12H500.16V539.05H500.94V543zM501.72 543V534.22H502.5V543zM503.28 543V539.74H504.07V537.67H504.85V531.98H505.63V534.91H506.41V538.36H507.19V541.12H507.97V538.36H508.75V543zM511.88 543V539.74H512.66V539.74H513.44V543zM514.22 543V536.98H515V535.6H515.78V543zM516.56 543V536.98H517.35V539.74H518.13V536.29H518.91V532.83H519.69V541.12H520.47V532.83H521.25V528H522.03V534.22H522.81V538.36H523.6V530.07H524.38V536.98H525.16V537.67H525.94V530.76H526.72V543zM527.5 543V537.67H528.28V539.05H529.06V530.76H529.85V535.6H530.63V538.36H531.41V534.22H532.19V533.52H532.97V537.67H533.75V538.36H534.53V541.12H535.31V530.76H536.09V533.52H536.88V532.14H537.66V534.91H538.44V532.14H539.22V525.93H540V535.6H540.78V522.48H541.56V528.69H542.34V532.83H543.13V533.52H543.91V528.69H544.69V533.52H545.47V528H546.25V535.6H547.03V535.6H547.81V523.17H548.59V536.29H549.38V533.52H550.16V537.67H550.94V536.29H551.72V536.29H552.5V530.76H553.28V532.83H554.06V543zM555.63 543V538.36H556.41V539.05H557.19V533.52H557.97V533.52H558.75V543zM560.31 543V536.98H561.09V538.36H561.87V534.22H562.66V540.43H563.44V543zM564.22 543V536.98H565V541.12H565.78V539.74H566.56V543zM568.12 543V539.05H568.91V543zM569.69 543V539.74H570.47V543zM571.25 543V541.81H572.03V543zM572.81 543V539.74H573.59V543zM574.37 543V540.43H575.16V543zM579.06 543V540.43H579.84V539.05H580.62V540.43H581.41V543zM607.97 543V541.12H608.75V543zM620.47 543V541.81H621.25V543zM645.46 543V541.81H646.25V540.43H647.03V539.05H647.81V539.05H648.59V535.6H649.37V532.83H650.15V528.69H650.93V530.07H651.71V528H652.5V535.6H653.28V530.07H654.06V527.31H654.84V525.93H655.62V521.1H656.4V525.24H657.18V532.83H657.96V523.86H658.75V530.07H659.53V522.48H660.31V524.55H661.09V505.22H661.87V515.58H662.65V514.19H663.43V507.29H664.21V503.15H665V507.98H665.78V510.74H666.56V515.58H667.34V512.12H668.12V495.55H668.9V508.67H669.68V502.46H670.46V496.93H671.24V496.93H672.03V494.86H672.81V493.48H673.59V494.17H674.37V506.6H675.15V504.53H675.93V496.93H676.71V505.22H677.49V495.55H678.28V483.82H679.06V476.22H679.84V485.2H680.62V489.34H681.4V483.13H682.18V478.98H682.96V477.6H683.74V473.46H684.53V487.96H685.31V461.03H686.09V467.25H686.87V463.8H687.65V458.96H688.43V454.13H689.21V456.89H689.99V467.94H690.78V460.34H691.56V450.68H692.34V453.44H693.12V472.77H693.9V470.01H694.68V456.89H695.46V472.08H696.24V461.73H697.02V454.13H697.81V454.13H698.59V476.22H699.37V449.99H700.15V467.94H700.93V465.18H701.71V493.48H702.49V485.89H703.27V516.96H704.06V492.79H704.84V498.32H705.62V478.29H706.4V487.27H707.18V486.58H707.96V491.41H708.74V483.13H709.52V506.6H710.31V507.98H711.09V474.15H711.87V480.37H712.65V477.6H713.43V483.82H714.21V476.91H714.99V485.2H715.77V470.7H716.56V467.94H717.34V457.58H718.12V444.47H718.9V432.04H719.68V433.42H720.46V422.37H721.24V430.66H722.02V460.34H722.81V425.13H723.59V444.47H724.37V448.61H725.15V449.99H725.93V441.7H726.71V454.82H727.49V438.25H728.27V447.92H729.05V456.2H729.84V452.75H730.62V454.13H731.4V450.68H732.18V503.84H732.96V459.65H733.74V465.18H734.52V466.56H735.3V465.87H736.09V469.32H736.87V447.23H737.65V427.21H738.43V437.56H739.21V432.04H739.99V406.49H740.77V403.73H741.55V382.33H742.34V355.41H743.12V361.62H743.9V374.74H744.68V372.67H745.46V359.55H746.24V367.83H747.02V353.33H747.8V358.25H748.59V371.98H749.37V360.49H750.15V385.09H750.93V402.35H751.71V403.04H752.49V412.71H753.27V416.85H754.05V448.61H754.83V447.23H755.62V470.7H756.4V452.06H757.18V438.94H757.96V451.37H758.74V452.75H759.52V454.82H760.3V450.68H761.08V466.56H761.87V454.13H762.65V465.87H763.43V469.32H764.21V543z"/>
<path fill="#d8fb2a" d="M134.55 543V541.81H135.33V543zM139.24 543V541.81H140.02V543zM141.58 543V540.43H142.36V543zM143.93 543V540.43H144.71V541.12H145.49V543zM147.83 543V541.81H148.61V543zM150.96 543V541.12H151.74V543zM152.52 543V541.81H153.3V543zM154.08 543V541.81H154.86V543zM157.21 543V541.81H157.99V543zM159.55 543V541.81H160.33V543zM164.24 543V541.81H165.02V543zM238.45 543V541.81H239.23V543zM250.95 543V541.81H251.73V543zM255.64 543V541.81H256.42V543zM258.76 543V541.12H259.55V541.12H260.33V541.81H261.11V543zM262.67 543V541.81H263.45V543zM293.92 543V541.81H294.7V543zM315.01 543V541.81H315.79V543zM318.92 543V541.81H319.7V543zM321.26 543V541.81H322.04V543zM322.82 543V541.12H323.6V541.81H324.39V543zM325.17 543V541.12H325.95V543zM327.51 543V541.81H328.29V541.12H329.07V543zM329.85 543V541.81H330.64V543zM331.42 543V541.81H332.2V543zM332.98 543V541.81H333.76V543zM336.1 543V541.12H336.89V543zM346.26 543V541.81H347.04V543zM356.42 543V541.12H357.2V541.81H357.98V543zM358.76 543V541.81H359.54V541.81H360.32V543zM361.88 543V541.12H362.67V543zM365.79 543V540.43H366.57V541.81H367.35V541.12H368.13V543zM370.48 543V541.81H371.26V541.81H372.04V543zM373.6 543V541.12H374.38V541.81H375.16V540.43H375.95V543zM376.73 543V541.12H377.51V543zM378.29 543V540.43H379.07V543zM381.41 543V541.81H382.2V543zM382.98 543V541.12H383.76V543zM386.1 543V540.43H386.88V543zM388.45 543V541.81H389.23V543zM390.01 543V541.81H390.79V541.81H391.57V541.12H392.35V541.81H393.13V541.12H393.91V543zM396.26 543V541.81H397.04V543zM404.85 543V541.81H405.63V543zM407.19 543V541.81H407.98V543zM411.88 543V541.81H412.66V541.12H413.44V543zM415.79 543V541.12H416.57V543zM418.13 543V541.12H418.91V543zM419.69 543V541.81H420.48V540.43H421.26V543zM422.04 543V541.12H422.82V543zM423.6 543V541.12H424.38V541.12H425.16V538.36H425.94V539.05H426.72V541.12H427.51V539.05H428.29V540.43H429.07V543zM430.63 543V540.43H431.41V541.81H432.19V543zM432.97 543V541.12H433.76V540.43H434.54V541.81H435.32V541.81H436.1V540.43H436.88V539.05H437.66V541.12H438.44V539.74H439.22V543zM440.01 543V541.81H440.79V537.67H441.57V537.67H442.35V543zM443.13 543V540.43H443.91V540.43H444.69V543zM445.47 543V538.36H446.26V539.74H447.04V539.74H447.82V539.74H448.6V540.43H449.38V540.43H450.16V540.43H450.94V539.05H451.72V541.12H452.5V540.43H453.29V543zM454.07 543V539.05H454.85V540.43H455.63V541.12H456.41V543zM457.97 543V539.05H458.75V540.43H459.54V543zM461.1 543V541.12H461.88V541.12H462.66V543zM463.44 543V539.74H464.22V541.12H465V541.12H465.79V541.81H466.57V540.43H467.35V541.81H468.13V541.12H468.91V543zM469.69 543V540.43H470.47V543zM472.04 543V541.81H472.82V543zM474.38 543V541.81H475.16V543zM476.72 543V541.81H477.5V543zM481.41 543V540.43H482.19V543zM482.97 543V541.81H483.75V543zM484.53 543V541.81H485.32V543zM486.1 543V539.05H486.88V539.74H487.66V540.43H488.44V539.05H489.22V541.12H490V537.67H490.78V540.43H491.57V536.98H492.35V541.12H493.13V540.43H493.91V539.74H494.69V541.12H495.47V539.05H496.25V543zM497.03 543V538.36H497.82V539.05H498.6V543zM499.38 543V541.81H500.16V540.43H500.94V539.05H501.72V536.98H502.5V541.12H503.28V541.12H504.07V538.36H504.85V534.74H505.63V537.67H506.41V539.05H507.19V541.81H507.97V539.74H508.75V543zM511.88 543V540.43H512.66V540.43H513.44V543zM514.22 543V537.67H515V537.67H515.78V540.43H516.56V538.36H517.35V540.43H518.13V538.36H518.91V536.29H519.69V541.81H520.47V536.29H521.25V530.07H522.03V536.29H522.81V540.43H523.6V536.29H524.38V539.05H525.16V539.05H525.94V533.52H526.72V537.67H527.5V539.05H528.28V540.43H529.06V534.22H529.85V536.98H530.63V539.74H531.41V537.67H532.19V536.98H532.97V539.74H533.75V539.05H534.53V541.81H535.31V532.14H536.09V534.22H536.88V534.22H537.66V537.67H538.44V534.91H539.22V530.07H540V536.98H540.78V529.38H541.56V531.45H542.34V536.29H543.13V535.6H543.91V532.14H544.69V538.36H545.47V531.45H546.25V537.67H547.03V536.29H547.81V526.62H548.59V536.98H549.38V536.29H550.16V540.43H550.94V536.98H551.72V538.36H552.5V533.52H553.28V536.29H554.06V536.98H554.84V537.67H555.63V539.05H556.41V539.74H557.19V536.29H557.97V536.29H558.75V540.43H559.53V539.74H560.31V539.05H561.09V540.43H561.87V536.98H562.66V543zM563.44 543V539.74H564.22V537.67H565V543zM565.78 543V540.43H566.56V541.12H567.34V540.43H568.12V541.12H568.91V541.81H569.69V543zM570.47 543V541.12H571.25V543zM572.03 543V541.12H572.81V540.43H573.59V541.81H574.37V541.12H575.16V540.43H575.94V543zM576.72 543V539.74H577.5V541.12H578.28V539.74H579.06V543zM579.84 543V539.74H580.62V543zM586.87 543V540.43H587.65V543zM594.69 543V541.81H595.47V543zM646.25 543V541.12H647.03V539.74H647.81V541.12H648.59V539.05H649.37V534.22H650.15V532.83H650.93V534.22H651.71V536.29H652.5V539.05H653.28V533.52H654.06V531.45H654.84V533.52H655.62V526.62H656.4V530.07H657.18V536.29H657.96V531.45H658.75V533.52H659.53V528.69H660.31V531.45H661.09V523.17H661.87V521.79H662.65V519.72H663.43V523.86H664.21V514.88H665V515.58H665.78V519.72H666.56V525.93H667.34V521.1H668.12V513.5H668.9V520.41H669.68V514.19H670.46V510.74H671.24V511.43H672.03V510.74H672.81V511.43H673.59V505.91H674.37V523.86H675.15V512.81H675.93V515.58H676.71V513.5H677.49V509.36H678.28V503.84H679.06V500.39H679.84V501.77H680.62V501.77H681.4V508.67H682.18V498.32H682.96V496.24H683.74V490.03H684.53V503.84H685.31V483.13H686.09V488.65H686.87V489.34H687.65V490.03H688.43V474.84H689.21V490.03H689.99V492.79H690.78V491.41H691.56V474.15H692.34V478.98H693.12V498.32H693.9V493.48H694.68V487.27H695.46V488.65H696.24V488.65H697.02V477.6H697.81V483.82H698.59V491.41H699.37V480.37H700.15V483.82H700.93V490.03H701.71V506.6H702.49V505.91H703.27V527.31H704.06V508.67H704.84V510.74H705.62V496.93H706.4V501.77H707.18V496.93H707.96V503.84H708.74V505.91H709.52V516.27H710.31V516.96H711.09V496.24H711.87V494.17H712.65V489.34H713.43V497.62H714.21V500.39H714.99V494.86H715.77V490.72H716.56V492.1H717.34V481.06H718.12V458.96H718.9V457.58H719.68V462.42H720.46V445.85H721.24V462.42H722.02V485.2H722.81V471.39H723.59V458.27H724.37V471.39H725.15V468.63H725.93V465.87H726.71V477.6H727.49V468.63H728.27V473.46H729.05V476.22H729.84V468.63H730.62V474.84H731.4V469.32H732.18V514.88H732.96V479.68H733.74V483.82H734.52V480.37H735.3V485.2H736.09V486.58H736.87V462.42H737.65V448.61H738.43V456.89H739.21V454.82H739.99V436.87H740.77V429.28H741.55V438.94H742.34V409.26H743.12V416.85H743.9V394.07H744.68V409.95H745.46V406.49H746.24V414.78H747.02V391.31H747.8V419.44H748.59V432.73H749.37V428.06H750.15V421.68H750.93V438.94H751.71V440.32H752.49V441.01H753.27V448.61H754.05V478.98H754.83V481.75H755.62V489.34H756.4V478.98H757.18V471.39H757.96V466.56H758.74V465.18H759.52V476.91H760.3V476.91H761.08V483.82H761.87V476.91H762.65V485.89H763.43V492.79H764.21V543z"/>
<path fill="#fff22a" d="M144.71 543V541.81H145.49V543zM146.27 543V541.81H147.05V541.81H147.83V543zM258.76 543V541.81H259.55V543zM292.36 543V541.81H293.14V543zM294.7 543V541.81H295.48V543zM324.39 543V541.81H325.17V541.81H325.95V543zM328.29 543V541.81H329.07V543zM354.85 543V541.81H355.63V543zM356.42 543V541.81H357.2V543zM361.1 543V541.12H361.88V543zM365.79 543V541.81H366.57V543zM367.35 543V541.81H368.13V543zM368.92 543V541.81H369.7V543zM375.16 543V541.12H375.95V543zM382.2 543V541.81H382.98V543zM386.1 543V541.12H386.88V543zM391.57 543V541.81H392.35V543zM412.66 543V541.81H413.44V543zM416.57 543V541.81H417.35V543zM420.48 543V541.12H421.26V543zM422.04 543V541.81H422.82V541.12H423.6V543zM424.38 543V541.81H425.16V540.43H425.94V540.43H426.72V543zM427.51 543V540.43H428.29V541.12H429.07V543zM429.85 543V541.12H430.63V541.12H431.41V543zM432.19 543V541.12H432.97V541.81H433.76V541.12H434.54V543zM436.88 543V539.74H437.66V543zM440.79 543V540.43H441.57V541.12H442.35V541.12H443.13V541.12H443.91V541.81H444.69V543zM445.47 543V539.74H446.26V541.12H447.04V541.12H447.82V541.12H448.6V541.81H449.38V541.12H450.16V543zM450.94 543V540.43H451.72V543zM452.5 543V541.12H453.29V541.12H454.07V540.43H454.85V541.12H455.63V543zM457.19 543V541.81H457.97V543zM458.75 543V541.81H459.54V541.12H460.32V543zM461.88 543V541.81H462.66V541.81H463.44V540.43H464.22V541.81H465V543zM466.57 543V541.12H467.35V543zM479.07 543V541.81H479.85V543zM481.41 543V541.81H482.19V543zM486.1 543V539.74H486.88V541.81H487.66V543zM488.44 543V541.12H489.22V543zM490 543V540.43H490.78V543zM491.57 543V539.05H492.35V543zM493.13 543V541.12H493.91V541.12H494.69V543zM495.47 543V540.43H496.25V541.81H497.03V543zM497.82 543V541.12H498.6V541.12H499.38V543zM500.16 543V541.81H500.94V541.12H501.72V539.74H502.5V541.81H503.28V541.81H504.07V541.12H504.85V536.81H505.63V539.05H506.41V539.74H507.19V543zM507.97 543V541.12H508.75V543zM509.53 543V541.12H510.31V541.81H511.1V541.81H511.88V541.12H512.66V543zM514.22 543V541.12H515V539.74H515.78V543zM516.56 543V539.05H517.35V541.81H518.13V540.43H518.91V539.74H519.69V543zM520.47 543V541.12H521.25V536.29H522.03V540.43H522.81V541.12H523.6V539.74H524.38V540.43H525.16V540.43H525.94V536.98H526.72V539.05H527.5V541.12H528.28V543zM529.06 543V538.36H529.85V541.12H530.63V543zM531.41 543V539.74H532.19V539.74H532.97V541.81H533.75V541.81H534.53V543zM535.31 543V538.36H536.09V537.67H536.88V540.43H537.66V539.74H538.44V536.98H539.22V536.29H540V540.43H540.78V535.6H541.56V539.74H542.34V539.05H543.13V536.98H543.91V536.98H544.69V539.05H545.47V539.05H546.25V541.12H547.03V539.74H547.81V534.22H548.59V539.74H549.38V539.05H550.16V541.12H550.94V538.36H551.72V539.74H552.5V538.36H553.28V541.12H554.06V539.74H554.84V540.43H555.63V541.12H556.41V541.81H557.19V537.67H557.97V543zM558.75 543V541.81H559.53V541.12H560.31V541.12H561.09V543zM561.87 543V539.74H562.66V541.12H563.44V541.12H564.22V539.05H565V541.81H565.78V543zM566.56 543V541.81H567.34V541.81H568.12V543zM569.69 543V540.43H570.47V541.81H571.25V543zM572.81 543V541.12H573.59V543zM574.37 543V541.81H575.16V541.12H575.94V543zM576.72 543V540.43H577.5V543zM579.06 543V541.81H579.84V543zM580.62 543V541.12H581.41V543zM582.19 543V541.12H582.97V541.81H583.75V543zM607.97 543V541.81H608.75V543zM612.65 543V541.81H613.44V543zM614.22 543V541.81H615V543zM646.25 543V541.81H647.03V541.12H647.81V543zM648.59 543V539.74H649.37V537.67H650.15V534.91H650.93V536.29H651.71V540.43H652.5V540.43H653.28V536.29H654.06V536.29H654.84V536.29H655.62V530.07H656.4V535.6H657.18V539.05H657.96V533.52H658.75V534.91H659.53V532.14H660.31V535.6H661.09V528H661.87V528H662.65V526.62H663.43V527.31H664.21V527.31H665V524.55H665.78V530.07H666.56V534.91H667.34V528.69H668.12V526.62H668.9V528.69H669.68V521.1H670.46V516.96H671.24V521.1H672.03V517.65H672.81V525.24H673.59V524.55H674.37V528H675.15V524.55H675.93V527.31H676.71V519.72H677.49V519.72H678.28V514.88H679.06V515.58H679.84V516.96H680.62V512.81H681.4V517.65H682.18V503.84H682.96V514.19H683.74V504.53H684.53V510.74H685.31V500.39H686.09V500.39H686.87V501.77H687.65V507.98H688.43V499.7H689.21V507.98H689.99V503.84H690.78V509.36H691.56V500.39H692.34V501.08H693.12V511.43H693.9V508.67H694.68V501.08H695.46V502.46H696.24V501.08H697.02V493.48H697.81V507.29H698.59V506.6H699.37V493.48H700.15V500.39H700.93V505.91H701.71V518.34H702.49V516.96H703.27V529.38H704.06V521.1H704.84V523.17H705.62V513.5H706.4V510.74H707.18V505.22H707.96V514.88H708.74V512.81H709.52V525.24H710.31V523.86H711.09V503.84H711.87V505.22H712.65V505.22H713.43V512.12H714.21V507.98H714.99V505.91H715.77V505.91H716.56V503.15H717.34V495.55H718.12V489.34H718.9V476.22H719.68V475.53H720.46V466.56H721.24V476.91H722.02V493.48H722.81V483.82H723.59V472.77H724.37V487.96H725.15V496.93H725.93V487.27H726.71V497.62H727.49V483.82H728.27V489.34H729.05V496.93H729.84V496.24H730.62V487.27H731.4V484.51H732.18V521.1H732.96V496.93H733.74V502.46H734.52V499.7H735.3V494.86H736.09V492.79H736.87V494.17H737.65V479.68H738.43V472.08H739.21V474.84H739.99V457.58H740.77V461.03H741.55V464.49H742.34V430.66H743.12V457.58H743.9V416.85H744.68V443.77H745.46V430.66H746.24V440.32H747.02V422.37H747.8V449.69H748.59V456.89H749.37V466.66H750.15V456.89H750.93V465.87H751.71V471.39H752.49V463.8H753.27V465.87H754.05V484.51H754.83V492.1H755.62V509.36H756.4V494.17H757.18V485.89H757.96V490.72H758.74V483.13H759.52V485.89H760.3V491.41H761.08V496.93H761.87V487.96H762.65V497.62H763.43V501.77H764.21V543z"/>
<path fill="#fdb827" d="M155.64 543V541.81H156.42V543zM240.8 543V541.81H241.58V543zM243.14 543V541.81H243.92V543zM259.55 543V541.81H260.33V543zM322.04 543V541.81H322.82V543zM369.7 543V541.81H370.48V543zM373.6 543V541.81H374.38V543zM375.16 543V541.81H375.95V541.81H376.73V541.81H377.51V543zM380.63 543V541.81H381.41V543zM386.88 543V541.81H387.66V543zM409.54 543V541.81H410.32V543zM411.1 543V541.81H411.88V543zM420.48 543V541.81H421.26V543zM422.82 543V541.81H423.6V543zM425.94 543V541.81H426.72V541.81H427.51V543zM429.07 543V541.81H429.85V543zM430.63 543V541.81H431.41V543zM436.88 543V541.12H437.66V543zM438.44 543V541.12H439.22V543zM440.79 543V541.12H441.57V543zM450.16 543V541.81H450.94V541.12H451.72V543zM454.07 543V541.81H454.85V541.81H455.63V541.81H456.41V543zM457.97 543V541.81H458.75V543zM459.54 543V541.81H460.32V541.81H461.1V543zM466.57 543V541.81H467.35V543zM468.91 543V541.81H469.69V543zM477.5 543V541.81H478.28V543zM486.1 543V540.43H486.88V543zM487.66 543V541.81H488.44V541.81H489.22V543zM490 543V541.12H490.78V543zM491.57 543V541.12H492.35V541.81H493.13V541.81H493.91V543zM497.82 543V541.81H498.6V543zM501.72 543V541.12H502.5V543zM504.07 543V541.81H504.85V541.81H505.63V541.81H506.41V543zM507.97 543V541.81H508.75V543zM512.66 543V541.81H513.44V541.81H514.22V543zM515 543V541.81H515.78V541.81H516.56V541.12H517.35V543zM518.13 543V541.12H518.91V541.12H519.69V543zM521.25 543V539.74H522.03V541.81H522.81V543zM523.6 543V541.81H524.38V543zM525.16 543V541.81H525.94V543zM526.72 543V541.81H527.5V541.81H528.28V543zM529.06 543V541.12H529.85V543zM532.19 543V541.81H532.97V543zM535.31 543V541.81H536.09V540.43H536.88V541.81H537.66V541.81H538.44V540.43H539.22V541.12H540V541.12H540.78V539.74H541.56V540.43H542.34V541.12H543.13V540.43H543.91V539.74H544.69V541.12H545.47V543zM547.03 543V541.12H547.81V539.74H548.59V541.12H549.38V543zM550.16 543V541.81H550.94V540.43H551.72V543zM554.06 543V541.81H554.84V543zM557.19 543V540.43H557.97V541.12H558.75V543zM559.53 543V541.81H560.31V543zM561.87 543V541.81H562.66V543zM564.22 543V541.12H565V543zM569.69 543V541.81H570.47V543zM572.03 543V541.81H572.81V541.81H573.59V543zM575.94 543V541.12H576.72V541.81H577.5V541.81H578.28V541.12H579.06V543zM579.84 543V541.81H580.62V541.81H581.41V543zM647.03 543V541.81H647.81V541.81H648.59V541.12H649.37V541.12H650.15V539.74H650.93V541.12H651.71V543zM653.28 543V541.12H654.06V541.12H654.84V541.81H655.62V539.74H656.4V540.43H657.18V543zM657.96 543V540.43H658.75V541.12H659.53V539.74H660.31V539.05H661.09V538.36H661.87V540.43H662.65V537.67H663.43V536.98H664.21V539.74H665V538.36H665.78V539.05H666.56V541.12H667.34V540.43H668.12V541.12H668.9V539.05H669.68V534.91H670.46V537.67H671.24V535.6H672.03V534.22H672.81V534.22H673.59V532.14H674.37V537.67H675.15V539.05H675.93V536.29H676.71V537.67H677.49V535.6H678.28V532.14H679.06V535.6H679.84V530.07H680.62V531.45H681.4V534.91H682.18V523.86H682.96V530.07H683.74V527.31H684.53V531.45H685.31V523.17H686.09V531.45H686.87V523.86H687.65V524.55H688.43V516.96H689.21V529.38H689.99V526.62H690.78V524.55H691.56V520.41H692.34V519.72H693.12V526.62H693.9V520.41H694.68V520.41H695.46V526.62H696.24V522.48H697.02V516.27H697.81V516.96H698.59V523.17H699.37V519.72H700.15V522.48H700.93V524.55H701.71V525.93H702.49V530.07H703.27V537.67H704.06V531.45H704.84V530.07H705.62V533.52H706.4V530.76H707.18V521.1H707.96V532.83H708.74V526.62H709.52V530.76H710.31V530.07H711.09V519.72H711.87V524.55H712.65V525.24H713.43V527.31H714.21V530.07H714.99V534.22H715.77V525.93H716.56V523.86H717.34V520.41H718.12V525.24H718.9V516.96H719.68V501.08H720.46V509.36H721.24V516.96H722.02V519.72H722.81V509.36H723.59V516.96H724.37V515.58H725.15V519.72H725.93V520.41H726.71V511.43H727.49V516.27H728.27V516.96H729.05V525.93H729.84V512.12H730.62V516.96H731.4V511.43H732.18V532.14H732.96V518.34H733.74V523.17H734.52V512.81H735.3V522.48H736.09V514.19H736.87V519.03H737.65V514.19H738.43V514.19H739.21V501.08H739.99V495.55H740.77V512.12H741.55V492.79H742.34V480.37H743.12V487.96H743.9V470.01H744.68V497.62H745.46V483.82H746.24V492.1H747.02V473.46H747.8V493H748.59V496.93H749.37V490.79H750.15V491.41H750.93V496.93H751.71V495.55H752.49V492.1H753.27V490.03H754.05V507.98H754.83V512.81H755.62V523.17H756.4V514.88H757.18V511.43H757.96V504.53H758.74V511.43H759.52V503.15H760.3V513.5H761.08V525.93H761.87V520.41H762.65V517.65H763.43V522.48H764.21V543z"/>
<path fill="#3c3848" fill-opacity="0.5" d="M645 540h1v1h-1zM646 540h1v1h-1zM648 535h1v1h-1zM648 528h1v1h-1zM649 541h1v1h-1zM649 537h1v1h-1zM650 532h1v1h-1zM650 524h1v1h-1zM651 534h1v1h-1zM651 530h1v1h-1zM651 515h1v1h-1zM651 513h1v1h-1zM652 540h1v1h-1zM652 536h1v1h-1zM652 519h1v1h-1zM652 514h1v1h-1zM652 512h1v1h-1zM652 540h1v1h-1zM652 523h1v1h-1zM653 523h1v1h-1zM653 515h1v1h-1zM653 514h1v1h-1zM653 513h1v1h-1zM654 541h1v1h-1zM654 536h1v1h-1zM655 541h1v1h-1zM655 536h1v1h-1zM655 533h1v1h-1zM655 516h1v1h-1zM656 526h1v1h-1zM656 507h1v1h-1zM657 536h1v1h-1zM658 517h1v1h-1zM659 514h1v1h-1zM659 506h1v1h-1zM660 517h1v1h-1zM660 506h1v1h-1zM661 538h1v1h-1zM661 523h1v1h-1zM662 540h1v1h-1zM663 537h1v1h-1zM663 526h1v1h-1zM663 519h1v1h-1zM664 539h1v1h-1zM664 527h1v1h-1zM664 473h1v1h-1zM665 538h1v1h-1zM666 519h1v1h-1zM666 510h1v1h-1zM666 483h1v1h-1zM666 495h1v1h-1zM666 490h1v1h-1zM667 540h1v1h-1zM667 503h1v1h-1zM668 541h1v1h-1zM668 526h1v1h-1zM668 513h1v1h-1zM668 495h1v1h-1zM668 469h1v1h-1zM669 528h1v1h-1zM669 476h1v1h-1zM669 461h1v1h-1zM670 455h1v1h-1zM670 450h1v1h-1zM670 510h1v1h-1zM670 452h1v1h-1zM671 521h1v1h-1zM671 456h1v1h-1zM672 458h1v1h-1zM672 442h1v1h-1zM672 438h1v1h-1zM673 493h1v1h-1zM673 480h1v1h-1zM673 461h1v1h-1zM673 453h1v1h-1zM673 524h1v1h-1zM673 478h1v1h-1zM674 537h1v1h-1zM674 481h1v1h-1zM675 512h1v1h-1zM675 482h1v1h-1zM675 479h1v1h-1zM676 536h1v1h-1zM676 527h1v1h-1zM676 461h1v1h-1zM677 513h1v1h-1zM677 477h1v1h-1zM677 460h1v1h-1zM677 535h1v1h-1zM677 509h1v1h-1zM677 468h1v1h-1zM677 456h1v1h-1zM679 462h1v1h-1zM679 450h1v1h-1zM680 516h1v1h-1zM680 501h1v1h-1zM680 485h1v1h-1zM680 467h1v1h-1zM680 460h1v1h-1zM680 440h1v1h-1zM681 531h1v1h-1zM681 478h1v1h-1zM681 466h1v1h-1zM681 455h1v1h-1zM681 508h1v1h-1zM681 439h1v1h-1zM682 478h1v1h-1zM682 464h1v1h-1zM682 424h1v1h-1zM683 530h1v1h-1zM683 514h1v1h-1zM683 446h1v1h-1zM684 504h1v1h-1zM684 466h1v1h-1zM684 432h1v1h-1zM684 531h1v1h-1zM684 445h1v1h-1zM684 427h1v1h-1zM686 454h1v1h-1zM686 438h1v1h-1zM686 421h1v1h-1zM687 463h1v1h-1zM687 443h1v1h-1zM687 408h1v1h-1zM688 458h1v1h-1zM688 430h1v1h-1zM688 412h1v1h-1zM688 396h1v1h-1zM689 456h1v1h-1zM689 412h1v1h-1zM689 399h1v1h-1zM690 526h1v1h-1zM690 503h1v1h-1zM690 451h1v1h-1zM690 407h1v1h-1zM691 491h1v1h-1zM691 410h1v1h-1zM691 520h1v1h-1zM691 436h1v1h-1zM691 397h1v1h-1zM692 453h1v1h-1zM692 433h1v1h-1zM693 511h1v1h-1zM693 498h1v1h-1zM693 423h1v1h-1zM693 407h1v1h-1zM694 520h1v1h-1zM694 508h1v1h-1zM694 440h1v1h-1zM694 418h1v1h-1zM695 520h1v1h-1zM695 487h1v1h-1zM696 522h1v1h-1zM696 488h1v1h-1zM696 461h1v1h-1zM696 445h1v1h-1zM697 516h1v1h-1zM697 493h1v1h-1zM697 405h1v1h-1zM698 507h1v1h-1zM698 483h1v1h-1zM698 455h1v1h-1zM698 422h1v1h-1zM698 420h1v1h-1zM699 519h1v1h-1zM699 493h1v1h-1zM699 416h1v1h-1zM700 522h1v1h-1zM700 419h1v1h-1zM701 450h1v1h-1zM701 437h1v1h-1zM702 518h1v1h-1zM702 485h1v1h-1zM702 472h1v1h-1zM702 471h1v1h-1zM703 507h1v1h-1zM703 503h1v1h-1zM703 500h1v1h-1zM705 523h1v1h-1zM705 510h1v1h-1zM705 498h1v1h-1zM705 486h1v1h-1zM706 533h1v1h-1zM706 513h1v1h-1zM706 472h1v1h-1zM706 454h1v1h-1zM706 501h1v1h-1zM706 487h1v1h-1zM707 496h1v1h-1zM707 486h1v1h-1zM708 514h1v1h-1zM708 491h1v1h-1zM708 479h1v1h-1zM708 457h1v1h-1zM709 526h1v1h-1zM709 512h1v1h-1zM709 454h1v1h-1zM709 525h1v1h-1zM709 491h1v1h-1zM710 502h1v1h-1zM710 496h1v1h-1zM710 489h1v1h-1zM711 503h1v1h-1zM711 496h1v1h-1zM711 459h1v1h-1zM711 445h1v1h-1zM712 505h1v1h-1zM713 489h1v1h-1zM713 458h1v1h-1zM713 444h1v1h-1zM713 497h1v1h-1zM714 464h1v1h-1zM715 534h1v1h-1zM715 485h1v1h-1zM716 490h1v1h-1zM716 503h1v1h-1zM716 445h1v1h-1zM717 495h1v1h-1zM717 457h1v1h-1zM717 448h1v1h-1zM717 430h1v1h-1zM718 489h1v1h-1zM719 457h1v1h-1zM719 410h1v1h-1zM719 401h1v1h-1zM719 396h1v1h-1zM720 501h1v1h-1zM720 394h1v1h-1zM720 509h1v1h-1zM720 466h1v1h-1zM720 422h1v1h-1zM721 413h1v1h-1zM721 380h1v1h-1zM722 493h1v1h-1zM722 485h1v1h-1zM722 460h1v1h-1zM723 509h1v1h-1zM723 471h1v1h-1zM723 400h1v1h-1zM723 516h1v1h-1zM723 472h1v1h-1zM723 458h1v1h-1zM723 415h1v1h-1zM724 515h1v1h-1zM724 471h1v1h-1zM724 427h1v1h-1zM725 409h1v1h-1zM726 487h1v1h-1zM727 454h1v1h-1zM727 426h1v1h-1zM727 414h1v1h-1zM727 483h1v1h-1zM727 468h1v1h-1zM727 438h1v1h-1zM727 425h1v1h-1zM727 420h1v1h-1zM727 410h1v1h-1zM728 425h1v1h-1zM728 418h1v1h-1zM728 414h1v1h-1zM729 437h1v1h-1zM729 420h1v1h-1zM730 452h1v1h-1zM730 420h1v1h-1zM731 474h1v1h-1zM731 454h1v1h-1zM731 433h1v1h-1zM731 511h1v1h-1zM732 514h1v1h-1zM733 479h1v1h-1zM733 459h1v1h-1zM733 445h1v1h-1zM734 523h1v1h-1zM734 456h1v1h-1zM734 512h1v1h-1zM734 499h1v1h-1zM734 466h1v1h-1zM734 457h1v1h-1zM734 448h1v1h-1zM734 440h1v1h-1zM735 449h1v1h-1zM735 437h1v1h-1zM736 486h1v1h-1zM736 469h1v1h-1zM736 430h1v1h-1zM737 462h1v1h-1zM737 427h1v1h-1zM737 401h1v1h-1zM738 514h1v1h-1zM738 416h1v1h-1zM738 398h1v1h-1zM738 394h1v1h-1zM739 501h1v1h-1zM739 474h1v1h-1zM739 393h1v1h-1zM739 388h1v1h-1zM740 495h1v1h-1zM740 457h1v1h-1zM740 406h1v1h-1zM741 344h1v1h-1zM741 363h1v1h-1zM741 349h1v1h-1zM742 480h1v1h-1zM742 355h1v1h-1zM742 342h1v1h-1zM742 335h1v1h-1zM743 325h1v1h-1zM744 394h1v1h-1zM745 314h1v1h-1zM745 406h1v1h-1zM746 308h1v1h-1zM747 473h1v1h-1zM747 422h1v1h-1zM747 391h1v1h-1zM747 353h1v1h-1zM748 419h1v1h-1zM748 327h1v1h-1zM748 319h1v1h-1zM749 490h1v1h-1zM749 466h1v1h-1zM749 326h1v1h-1zM749 301h1v1h-1zM750 491h1v1h-1zM750 385h1v1h-1zM751 465h1v1h-1zM751 337h1v1h-1zM752 495h1v1h-1zM752 471h1v1h-1zM752 358h1v1h-1zM752 463h1v1h-1zM752 378h1v1h-1zM752 358h1v1h-1zM753 376h1v1h-1zM754 484h1v1h-1zM754 395h1v1h-1zM755 481h1v1h-1zM755 402h1v1h-1zM756 470h1v1h-1zM756 463h1v1h-1zM756 453h1v1h-1zM756 415h1v1h-1zM757 511h1v1h-1zM757 413h1v1h-1zM757 405h1v1h-1zM758 504h1v1h-1zM758 466h1v1h-1zM758 419h1v1h-1zM759 511h1v1h-1zM759 452h1v1h-1zM759 415h1v1h-1zM759 503h1v1h-1zM759 485h1v1h-1zM759 476h1v1h-1zM760 491h1v1h-1zM760 440h1v1h-1zM760 431h1v1h-1zM760 424h1v1h-1zM761 433h1v1h-1zM762 520h1v1h-1zM762 428h1v1h-1zM763 441h1v1h-1zM763 424h1v1h-1zM763 501h1v1h-1z"/>
<rect x="717" y="389" width="1" height="8" fill="#fff22a"/>
<rect x="721" y="392" width="1" height="8" fill="#fff22a"/>
<rect x="722" y="372" width="1" height="8" fill="#fff22a"/>
<rect x="730" y="406" width="1" height="7" fill="#fff22a"/>
<rect x="736" y="443" width="1" height="6" fill="#fdb827"/>
<rect x="661" y="398" width="1" height="2" fill="#fdb827"/>
<rect x="661" y="417" width="1" height="2" fill="#fdb827"/>
</g>
</svg>
<div class="yl" style="top:171px">520</div>
<div class="yl" style="top:261px">390</div>
<div class="yl" style="top:351px">260</div>
<div class="yl" style="top:441px">130</div>
<div class="yl" style="top:531px">0</div>
<div class="xl" style="left:204.0px">8/22</div>
<div class="xl" style="left:246.8px">10/16</div>
<div class="xl" style="left:289.6px">12/10</div>
<div class="xl" style="left:375.2px">3/30</div>
<div class="xl" style="left:418.0px">5/24</div>
<div class="xl" style="left:460.8px">7/18</div>
<div class="xl" style="left:503.6px">9/11</div>
<div class="xl" style="left:632.0px">2/23</div>
<div class="xl" style="left:713.5px">6/6</div>

</body></html>
